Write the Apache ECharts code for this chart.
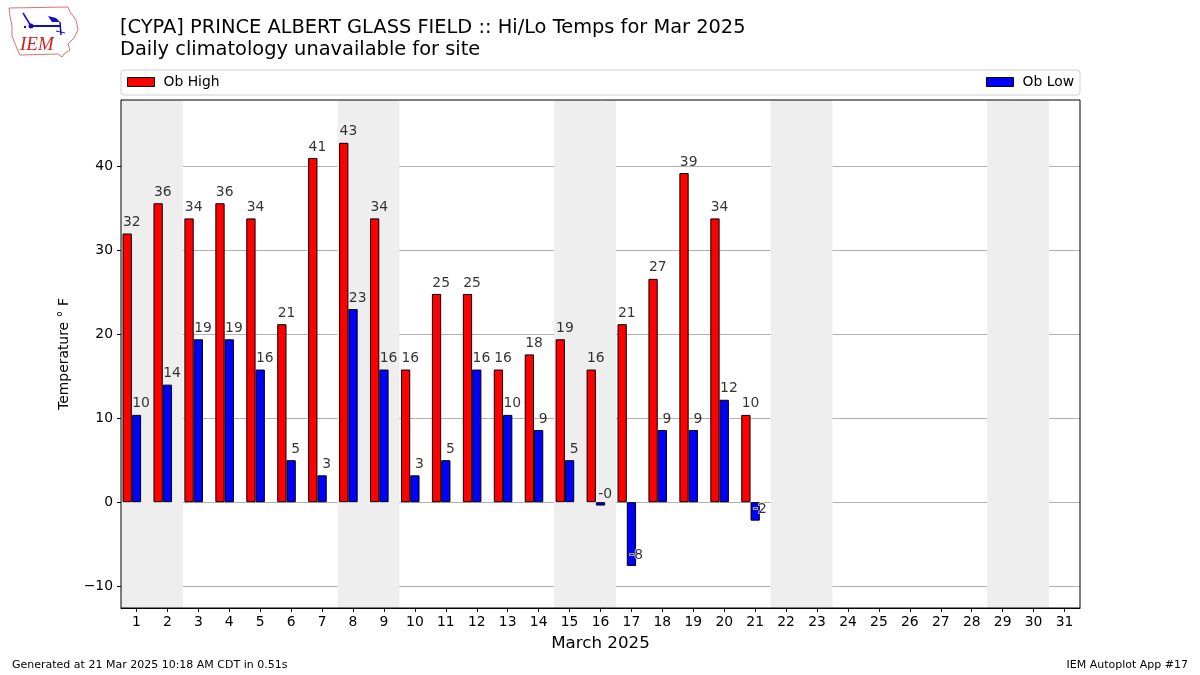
<!DOCTYPE html>
<html>
<head>
<meta charset="utf-8">
<script src="https://cdn.jsdelivr.net/npm/echarts@6/dist/echarts.min.js"></script>
<style>html,body{margin:0;padding:0;background:#fff;}#c{width:1200px;height:675px;}</style>
</head>
<body>
<div id="c"></div>
<script>
const days = ['1','2','3','4','5','6','7','8','9','10','11','12','13','14','15','16','17','18','19','20','21','22','23','24','25','26','27','28','29','30','31'];
const obHigh = [32, 35.6, 33.8, 35.6, 33.8, 21.2, 41, 42.8, 33.8, 15.8, 24.8, 24.8, 15.8, 17.6, 19.4, 15.8, 21.2, 26.6, 39.2, 33.8, 10.4];
const obLow = [10.4, 14, 19.4, 19.4, 15.8, 5, 3.2, 23, 15.8, 3.2, 5, 15.8, 10.4, 8.6, 5, -0.4, -7.6, 8.6, 8.6, 12.2, -2.2];
const weekendStarts = [1, 8, 15, 22, 29];
const yTicks = [-10, 0, 10, 20, 30, 40];

const FONT = 'DejaVu Sans';
const FS = 13.9;
const chart = echarts.init(document.getElementById('c'), null, {renderer: 'canvas'});

const barW = 959 / 31 * 0.3;
const labelStyle = {
  show: true, position: 'top', distance: 4, color: '#000',
  fontFamily: FONT, fontSize: FS,
  formatter: p => Number(p.value[1]).toFixed(0)
};
function labelItems(arr) {
  return arr.map((v, i) => v < -1
    ? {value: [days[i], v], label: {textBorderColor: '#fff', textBorderWidth: 1.5}}
    : {value: [days[i], v]});
}

const option = {
  animation: false,
  backgroundColor: '#fff',
  textStyle: {fontFamily: FONT},
  title: [
    {text: '[CYPA] PRINCE ALBERT GLASS FIELD :: Hi/Lo Temps for Mar 2025', left: 120, top: 18, padding: 0,
     textStyle: {fontFamily: FONT, fontSize: 19.4, fontWeight: 'normal', color: '#000'}},
    {text: 'Daily climatology unavailable for site', left: 120, top: 40, padding: 0,
     textStyle: {fontFamily: FONT, fontSize: 19.4, fontWeight: 'normal', color: '#000'}},
    {text: 'Generated at 21 Mar 2025 10:18 AM CDT in 0.51s', left: 12, top: 660, padding: 0,
     textStyle: {fontFamily: FONT, fontSize: 11, fontWeight: 'normal', color: '#000'}},
    {text: 'IEM Autoplot App #17', right: 12, top: 660, padding: 0,
     textStyle: {fontFamily: FONT, fontSize: 11, fontWeight: 'normal', color: '#000'}}
  ],
  legend: [
    {data: ['Ob High'], icon: 'rect', left: 127, top: 75, padding: 0, itemWidth: 27, itemHeight: 9,
     textStyle: {fontFamily: FONT, fontSize: FS, color: '#000', padding: [0, 0, 0, 4]},
     itemStyle: {borderColor: '#000', borderWidth: 1}},
    {data: ['Ob Low'], icon: 'rect', right: 126, top: 75, padding: 0, itemWidth: 27, itemHeight: 9,
     textStyle: {fontFamily: FONT, fontSize: FS, color: '#000', padding: [0, 0, 0, 4]},
     itemStyle: {borderColor: '#000', borderWidth: 1}}
  ],
  graphic: [
    {type: 'rect', shape: {x: 121, y: 70, width: 959, height: 25, r: 3},
     style: {fill: '#fff', stroke: '#d0d0d0', lineWidth: 1}, z: -1},
    // IEM logo (approximation)
    {type: 'polyline', shape: {points: [[9,8],[68,7],[70,12],[76,20],[78,30],[74,38],[68,44],[70,50],[64,54],[62,57],[58,54],[20,55],[16,46],[12,36],[12,26],[10,16],[9,8]]},
     style: {stroke: '#e07070', lineWidth: 1, fill: 'none'}},
    {type: 'line', shape: {x1: 31, y1: 26, x2: 60, y2: 26}, style: {stroke: '#1010c0', lineWidth: 2}},
    {type: 'circle', shape: {cx: 31, cy: 26, r: 2.5}, style: {fill: '#1010c0'}},
    {type: 'line', shape: {x1: 31, y1: 26, x2: 23, y2: 13}, style: {stroke: '#1010c0', lineWidth: 1.5}},
    {type: 'circle', shape: {cx: 25, cy: 27, r: 1.2}, style: {fill: '#1010c0'}},
    {type: 'polygon', shape: {points: [[48,16],[56,18],[60,22],[52,22]]}, style: {fill: '#1010c0'}},
    {type: 'line', shape: {x1: 60, y1: 22, x2: 61, y2: 35}, style: {stroke: '#1010c0', lineWidth: 1.5}},
    {type: 'line', shape: {x1: 56, y1: 31, x2: 65, y2: 33}, style: {stroke: '#1010c0', lineWidth: 1}},
    {type: 'text', x: 20, y: 35, style: {text: 'IEM', fill: '#d02020', font: 'italic 19px "Liberation Serif"'}}
  ],
  grid: {left: 121, right: 120, top: 100, bottom: 67, show: true, borderColor: '#000', borderWidth: 1, backgroundColor: 'transparent', z: 3},
  xAxis: [
    {type: 'category', data: days, boundaryGap: true,
     name: 'March 2025', nameLocation: 'middle', nameGap: 27,
     nameTextStyle: {fontFamily: FONT, fontSize: 16.7, color: '#000'},
     axisLine: {show: true, onZero: false, lineStyle: {color: '#000', width: 1}},
     axisTick: {show: true, alignWithLabel: true, length: 4, lineStyle: {color: '#000'}},
     axisLabel: {color: '#000', fontFamily: FONT, fontSize: FS, margin: 7, interval: 0},
     splitLine: {show: false}},
    {type: 'value', min: 0.5, max: 31.5, show: false}
  ],
  yAxis: {
    type: 'value', min: -12.6, max: 47.9, splitNumber: 6,
    name: 'Temperature ° F', nameLocation: 'middle', nameGap: 50, nameRotate: 90,
    nameTextStyle: {fontFamily: FONT, fontSize: FS, color: '#000'},
    axisLine: {show: true, onZero: false, lineStyle: {color: '#000', width: 1}},
    axisTick: {show: true, length: 4, lineStyle: {color: '#000'}, customValues: yTicks},
    axisLabel: {color: '#000', fontFamily: FONT, fontSize: FS, margin: 8, customValues: yTicks,
                formatter: v => String(v).replace('-', '\u2212')},
    splitLine: {show: true, lineStyle: {color: '#b0b0b0', width: 1}}
  },
  series: [
    {name: 'weekend', type: 'line', xAxisIndex: 1, data: [], silent: true, z: 0,
     markArea: {silent: true, itemStyle: {color: '#eeeeee'},
       data: weekendStarts.map(d => [{xAxis: d - 0.5}, {xAxis: d + 1.5}])}},
    {name: 'Ob High', type: 'bar', data: obHigh, barWidth: barW, barGap: '0%', z: 2,
     itemStyle: {color: '#ff0000', borderColor: '#000', borderWidth: 1}},
    {name: 'Ob Low', type: 'bar', data: obLow, barWidth: barW, barGap: '0%', z: 2,
     itemStyle: {color: '#0000ff', borderColor: '#000', borderWidth: 1}},
    {name: 'spacer', type: 'bar', data: days.map(() => '-'), barWidth: barW, barGap: '0%'},
    {name: 'hiLabels', type: 'scatter', symbolSize: 0, z: 5, silent: true,
     data: labelItems(obHigh),
     label: Object.assign({}, labelStyle, {offset: [-barW / 2, 0]})},
    {name: 'loLabels', type: 'scatter', symbolSize: 0, z: 5, silent: true,
     data: labelItems(obLow),
     label: Object.assign({}, labelStyle, {offset: [barW / 2, 0]})}
  ]
};
chart.setOption(option);
</script>
</body>
</html>
